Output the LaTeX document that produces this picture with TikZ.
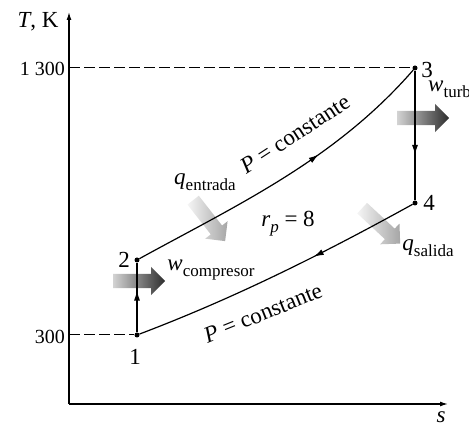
\documentclass[tikz,border=0pt]{standalone}
\usepackage{fontspec}
\setmainfont{Liberation Serif}
\usetikzlibrary{arrows.meta,shapes.arrows,decorations.markings}

\newcommand{\subtxt}[1]{\raisebox{-0.55ex}{\fontsize{17}{17}\selectfont #1}}

\begin{document}
\begin{tikzpicture}[x=1pt, y=1pt,
    axis/.style={line width=1.3pt, -{Latex[length=8pt,width=5pt]}},
    guide/.style={dash pattern=on 11pt off 4pt, line width=1pt},
    proc/.style={line width=1.2pt},
    midarrow/.style={postaction={decorate, decoration={markings,
        mark=at position #1 with {\arrow{Latex[length=10pt,width=6pt]}}}}},
    state/.style={circle, fill=black, inner sep=0pt, minimum size=5pt},
    lbl/.style={font=\fontsize{23}{25}\selectfont, inner sep=1pt},
    tick/.style={font=\fontsize{20}{22}\selectfont, anchor=east, inner sep=1pt},
    energy/.style={single arrow, draw=none, inner xsep=0pt, inner ysep=7pt,
                   single arrow head extend=7pt, minimum height=52pt,
                   anchor=tail},
    heat/.style={energy, left color=gray!8, right color=gray!70},
    work/.style={energy, left color=gray!35, right color=gray!35!black},
  ]
    \useasboundingbox (0,0) rectangle (469,426);

    % axes
    \coordinate (O) at (69,22);
    \draw[axis] (O) -- (448,22) coordinate (xend);
    \draw[axis] (O) -- (69,414) coordinate (yend);
    \node[lbl] (tlab) at (38,404) {\textit{T}, K};
    \node[lbl] (slab) at (441,9) {\textit{s}};
    \node[tick] (t1300) at (66,357) {1 300};
    \node[tick] (t300) at (66,89) {300};

    % states
    \node[state] (p1) at (137,91) {};
    \node[state] (p2) at (137,166) {};
    \node[state] (p3) at (415,358) {};
    \node[state] (p4) at (415,223) {};
    \node[lbl] (n1) at (135,69) {1};
    \node[lbl] (n2) at (124,166) {2};
    \node[lbl] (n3) at (427,356) {3};
    \node[lbl] (n4) at (429,223) {4};

    % guide lines
    \coordinate (h1300) at (69,358);
    \coordinate (h300) at (69,91);
    \draw[guide] (h1300) -- (p3);
    \draw[guide] (h300) -- (p1);

    % energy arrows
    \node[heat, rotate=-52] (ain) at (193,226) {};
    \node[heat, rotate=-43] (aout) at (362,218) {};
    \node[work] (awc) at (113,145) {};
    \node[work] (awt) at (397,308) {};

    % cycle
    \draw[proc, midarrow=0.6] (p1) -- (p2);
    \draw[proc, midarrow=0.62] (p2) .. controls (237,221) and (335,266) .. (p3);
    \draw[proc, midarrow=0.65] (p3) -- (p4);
    \draw[proc, midarrow=0.37] (p4) .. controls (319,170) and (232,127) .. (p1);

    % labels
    \node[lbl, rotate=33] (pup) at (295,292) {\textit{P} = constante};
    \node[lbl, rotate=22] (plow) at (263,113) {\textit{P} = constante};
    \node[lbl] (rp) at (288,202) {\textit{r}\subtxt{\textit{p}} = 8};
    \node[lbl] (qin) at (205,244) {\textit{q}\subtxt{entrada}};
    \node[lbl] (qout) at (428,178) {\textit{q}\subtxt{salida}};
    \node[lbl] (wc) at (211,156) {\textit{w}\subtxt{compresor}};
    \node[lbl, anchor=west] (wt) at (427,337) {\textit{w}\subtxt{turbina}};
\end{tikzpicture}
\end{document}
